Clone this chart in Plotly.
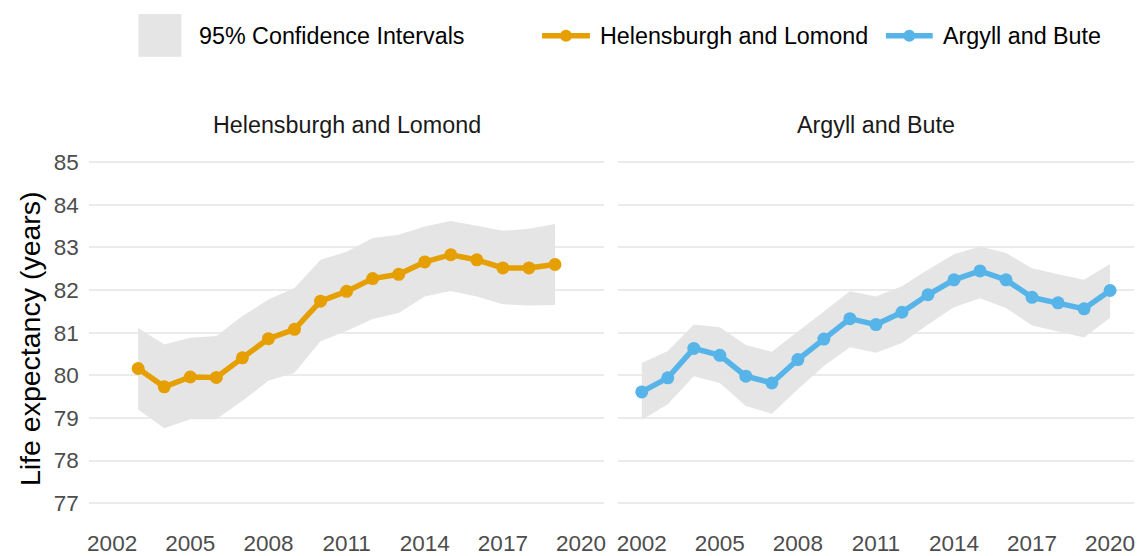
"""Life expectancy facets: Helensburgh and Lomond vs Argyll and Bute"""
import plotly.graph_objects as go

# Helensburgh and Lomond
hl_years = list(range(2003, 2020))
hl_value = [80.16, 79.73, 79.96, 79.95, 80.41, 80.86, 81.08, 81.74, 81.97,
            82.27, 82.37, 82.66, 82.83, 82.71, 82.52, 82.52, 82.60]
hl_upper = [81.11, 80.72, 80.88, 80.92, 81.39, 81.78, 82.05, 82.71, 82.90,
            83.22, 83.30, 83.49, 83.62, 83.51, 83.39, 83.44, 83.55]
hl_lower = [79.20, 78.76, 78.97, 78.97, 79.40, 79.87, 80.06, 80.80, 81.04,
            81.32, 81.46, 81.85, 81.98, 81.85, 81.67, 81.64, 81.65]

# Argyll and Bute
ab_years = list(range(2002, 2021))
ab_value = [79.61, 79.94, 80.63, 80.47, 79.98, 79.82, 80.37, 80.85, 81.33,
            81.19, 81.48, 81.89, 82.24, 82.45, 82.24, 81.83, 81.70, 81.56, 81.99]
ab_upper = [80.29, 80.57, 81.19, 81.13, 80.71, 80.55, 81.03, 81.50, 81.97,
            81.85, 82.09, 82.48, 82.84, 83.02, 82.87, 82.51, 82.37, 82.24, 82.61]
ab_lower = [78.95, 79.32, 79.98, 79.82, 79.28, 79.10, 79.67, 80.22, 80.66,
            80.53, 80.76, 81.19, 81.60, 81.81, 81.58, 81.17, 81.03, 80.89, 81.35]

x_ticks = [2002, 2005, 2008, 2011, 2014, 2017, 2020]
y_ticks = [77, 78, 79, 80, 81, 82, 83, 84, 85]

W, H = 1141, 556
FONT = "Liberation Sans, Arial, sans-serif"
CI_GREY = "#E5E5E5"
ORANGE = "#E69F00"
BLUE = "#56B4E9"
TEXT_SIZE = 23.3
TICK_SIZE = 22.5


def px_x(v):
    return v / W


def px_y(v):
    return (H - v) / H


def add_text(fig, text, x, y, size, colour, xanchor="center", angle=0):
    fig.add_annotation(x=px_x(x), y=px_y(y), xref="paper", yref="paper",
                       xanchor=xanchor, yanchor="middle", text=text,
                       textangle=angle, showarrow=False,
                       font=dict(family=FONT, size=size, color=colour))


def add_panel(fig, years, value, upper, lower, colour, xa, ya):
    """Ribbon plus line/markers for one facet"""
    fig.add_trace(go.Scatter(
        x=years + years[::-1], y=upper + lower[::-1],
        fill="toself", fillcolor=CI_GREY, mode="none",
        hoverinfo="skip", showlegend=False, xaxis=xa, yaxis=ya,
    ))
    fig.add_trace(go.Scatter(
        x=years, y=value, mode="lines+markers",
        line=dict(color=colour, width=5.5),
        marker=dict(color=colour, size=13),
        showlegend=False, xaxis=xa, yaxis=ya,
    ))


fig = go.Figure()
add_panel(fig, hl_years, hl_value, hl_upper, hl_lower, ORANGE, "x", "y")
add_panel(fig, ab_years, ab_value, ab_upper, ab_lower, BLUE, "x2", "y2")

xaxis_common = dict(
    range=[2001.1, 2020.9], tickvals=x_ticks, showgrid=False, zeroline=False,
    showline=False, ticks="", tickfont=dict(family=FONT, size=TICK_SIZE, color="#4D4D4D"),
    ticklabelstandoff=7,
)
yaxis_common = dict(
    range=[76.6, 85.4], tickvals=y_ticks, showgrid=True, gridcolor="#EBEBEB",
    gridwidth=2, zeroline=False, showline=False, ticks="",
    domain=[px_y(523), px_y(146)],
)

fig.update_layout(
    width=W, height=H,
    margin=dict(l=0, r=0, t=0, b=0),
    paper_bgcolor="white", plot_bgcolor="white",
    showlegend=False,
    xaxis=dict(domain=[px_x(87), px_x(604.6)], **xaxis_common),
    xaxis2=dict(domain=[px_x(618.5), px_x(1135.5)], anchor="y2", **xaxis_common),
    yaxis=dict(tickfont=dict(family=FONT, size=TICK_SIZE, color="#4D4D4D"),
               ticklabelstandoff=9, **yaxis_common),
    yaxis2=dict(anchor="x2", showticklabels=False, **yaxis_common),
)

# facet strip labels
add_text(fig, "Helensburgh and Lomond", (87 + 604.6) / 2, 126, TEXT_SIZE, "#1A1A1A")
add_text(fig, "Argyll and Bute", (618.5 + 1135.5) / 2, 126, TEXT_SIZE, "#1A1A1A")

# y axis title
add_text(fig, "Life expectancy (years)", 28, 340, 28.5, "black", angle=-90)

# legend drawn by hand to keep the big ggplot-style keys
fig.add_shape(type="rect", xref="paper", yref="paper",
              x0=px_x(137), x1=px_x(180), y0=px_y(57), y1=px_y(14),
              fillcolor=CI_GREY, line=dict(width=0))
add_text(fig, "95% Confidence Intervals", 196, 36, TEXT_SIZE, "black", xanchor="left")

for label, colour, x0, x1, tx in [("Helensburgh and Lomond", ORANGE, 542, 590, 598),
                                  ("Argyll and Bute", BLUE, 887, 934, 942)]:
    fig.add_shape(type="line", xref="paper", yref="paper",
                  x0=px_x(x0), x1=px_x(x1), y0=px_y(36), y1=px_y(36),
                  line=dict(color=colour, width=5.5))
    fig.add_shape(type="circle", xref="paper", yref="paper",
                  xsizemode="pixel", ysizemode="pixel",
                  xanchor=px_x((x0 + x1) / 2), yanchor=px_y(36),
                  x0=-6, x1=6, y0=-6, y1=6,
                  fillcolor=colour, line=dict(width=0))
    add_text(fig, label, tx, 36, TEXT_SIZE, "black", xanchor="left")

# page body has a default 8px margin; drop it so the figure fills the window
fig.write_html("out.html", config={"displayModeBar": False},
               post_script="document.body.style.margin='0';")
